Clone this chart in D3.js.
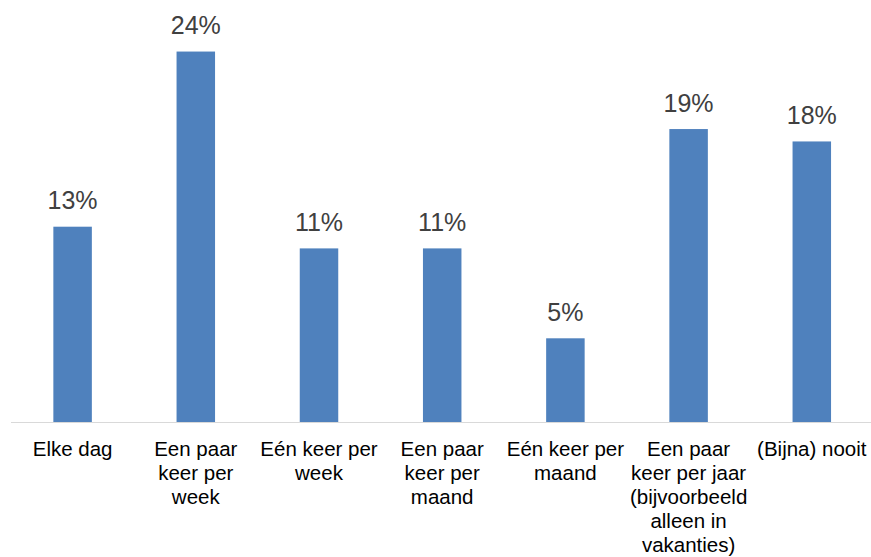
<!DOCTYPE html>
<html>
<head>
<meta charset="utf-8">
<script src="https://d3js.org/d3.v7.min.js"></script>
<style>
  body { margin: 0; background: #fff; }
  svg { display: block; font-family: "Liberation Sans", Arial, sans-serif; }
</style>
</head>
<body>
<svg id="chart" width="871" height="557"></svg>
<script>
// categories (line breaks as in the original)
var categories = [
  "Elke dag",
  "Een paar\nkeer per\nweek",
  "Eén keer per\nweek",
  "Een paar\nkeer per\nmaand",
  "Eén keer per\nmaand",
  "Een paar\nkeer per jaar\n(bijvoorbeeld\nalleen in\nvakanties)",
  "(Bijna) nooit"
];
// shares in percent
var values = [12.6, 23.9, 11.2, 11.2, 5.4, 18.9, 18.1];
var yMax = 25;

var svg = d3.select("#chart");
var base = 422;

var x = d3.scaleBand()
  .domain(categories)
  .range([11, 873.4])
  .paddingInner(0.6875)
  .paddingOuter(0.34375);

var y = d3.scaleLinear()
  .domain([0, yMax])
  .range([base, base - yMax * 15.5]);

// bars
svg.append("g")
  .selectAll("rect")
  .data(values)
  .enter().append("rect")
  .attr("x", function(d, i) { return x(categories[i]); })
  .attr("y", function(d) { return y(d); })
  .attr("width", x.bandwidth())
  .attr("height", function(d) { return base - y(d); })
  .attr("fill", "#4F81BD");

// value labels
svg.append("g")
  .selectAll("text")
  .data(values)
  .enter().append("text")
  .attr("x", function(d, i) { return x(categories[i]) + x.bandwidth() / 2; })
  .attr("y", function(d) { return y(d) - 17.5; })
  .attr("text-anchor", "middle")
  .attr("fill", "#404040")
  .style("font-size", "25px")
  .text(function(d) { return Math.round(d) + "%"; });

// axis line
svg.append("line")
  .attr("x1", 11).attr("x2", 871)
  .attr("y1", base + 0.5).attr("y2", base + 0.5)
  .attr("stroke", "#d9d9d9")
  .attr("stroke-width", 1);

// category labels
var cat = svg.append("g")
  .selectAll("text")
  .data(categories)
  .enter().append("text")
  .attr("x", function(d) { return x(d) + x.bandwidth() / 2; })
  .attr("y", 456)
  .attr("text-anchor", "middle")
  .attr("fill", "#000")
  .style("font-size", "20.5px");

cat.each(function(d) {
  var t = d3.select(this);
  var cx = t.attr("x");
  d.split("\n").forEach(function(line, j) {
    t.append("tspan")
      .attr("x", cx)
      .attr("dy", j === 0 ? 0 : 24)
      .text(line);
  });
});
</script>
</body>
</html>
